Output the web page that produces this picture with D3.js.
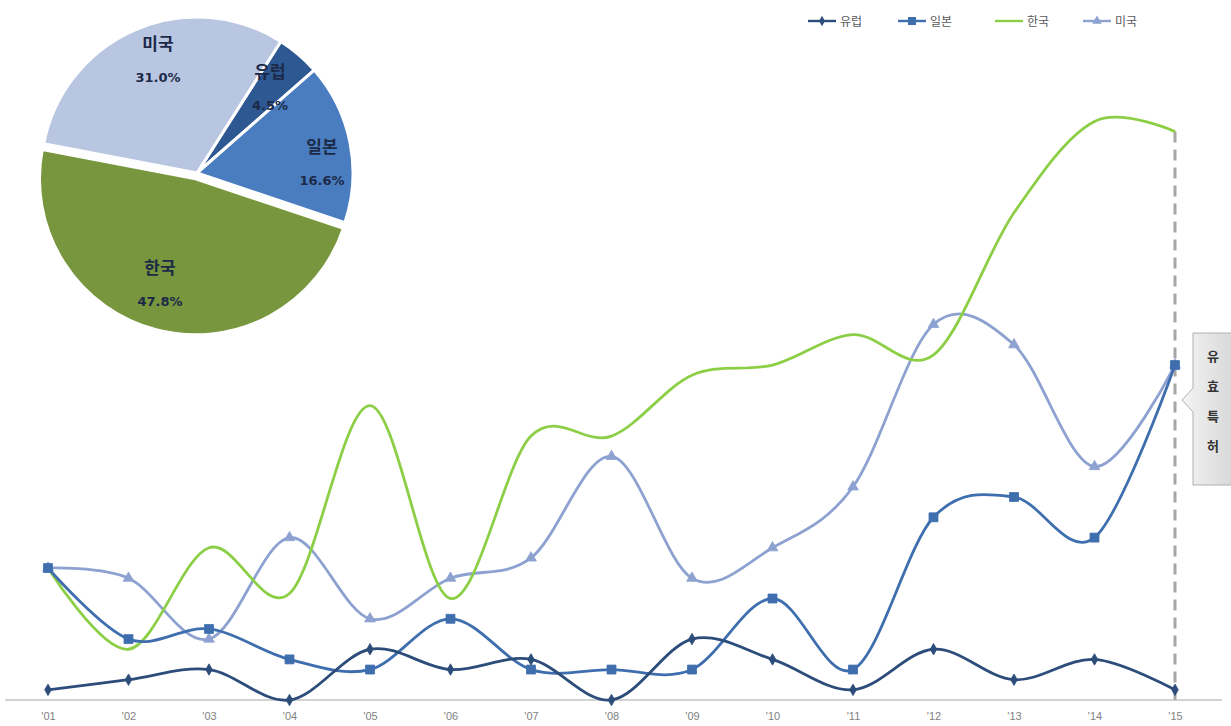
<!DOCTYPE html>
<html>
<head>
<meta charset="utf-8">
<script src="https://cdn.jsdelivr.net/npm/d3@7"></script>
<style>
  html, body { margin: 0; padding: 0; background: #ffffff; }
  svg { display: block; font-family: "Noto Sans CJK KR", "Noto Sans", sans-serif; }
</style>
</head>
<body>
<svg id="chart" width="1231" height="726"></svg>
<script>
// Yearly valid patent counts by country, 2001–2015
const years = ["'01","'02","'03","'04","'05","'06","'07","'08","'09","'10","'11","'12","'13","'14","'15"];
const europe = [1, 2, 3, 0, 5, 3, 4, 0, 6, 4, 1, 5, 2, 4, 1];
const japan  = [13, 6, 7, 4, 3, 8, 3, 3, 3, 10, 3, 18, 20, 16, 33];
const korea  = [13, 5, 15, 10.5, 29, 10, 26, 26, 32, 33, 36, 34, 48, 57, 56];
const usa    = [13, 12, 6, 16, 8, 12, 14, 24, 12, 15, 21, 37, 35, 23, 33];

// Share of total by country (pie)
const shareNames  = ["유럽", "일본", "한국", "미국"];
const shareValues = [4.5, 16.6, 47.8, 31.0];

const calloutText = ["유", "효", "특", "허"];

const svg = d3.select("#chart");

// ---------- line chart ----------
const x = d3.scalePoint().domain(years).range([48, 1175]);
const y = d3.scaleLinear().domain([0, 60]).range([700, 91]);

// baseline axis
svg.append("line")
  .attr("x1", 5).attr("x2", 1222)
  .attr("y1", y(0)).attr("y2", y(0))
  .attr("stroke", "#a6a6a6").attr("stroke-width", 1.2);

const xAxis = d3.axisBottom(x).tickSize(0).tickPadding(12);
const gx = svg.append("g").attr("transform", `translate(0,${y(0)})`).call(xAxis);
gx.select(".domain").remove();
gx.selectAll("text")
  .attr("fill", "#7f7f7f")
  .style("font-family", "'Liberation Sans', 'DejaVu Sans', sans-serif")
  .style("font-size", "11px");

// dashed marker line at the last year
svg.append("line")
  .attr("x1", x("'15")).attr("x2", x("'15"))
  .attr("y1", y(korea[korea.length - 1])).attr("y2", y(0))
  .attr("stroke", "#a6a6a6").attr("stroke-width", 3)
  .attr("stroke-dasharray", "11,7");

const line = d3.line()
  .x((d, i) => x(years[i]))
  .y(d => y(d))
  .curve(d3.curveCardinal.tension(0));

const series = [
  { name: "유럽", values: europe, color: "#2c4c7a", marker: "diamond" },
  { name: "일본", values: japan,  color: "#3f6eae", marker: "square" },
  { name: "한국", values: korea,  color: "#8ccf46", marker: "none" },
  { name: "미국", values: usa,    color: "#8da2d0", marker: "triangle" }
];

// draw order: light blue behind, then Korea, Japan, Europe on top
const drawOrder = [3, 2, 1, 0];

function markerPath(type, size) {
  if (type === "diamond") return d3.symbol(d3.symbolDiamond, size)();
  if (type === "square") return d3.symbol(d3.symbolSquare, size)();
  if (type === "triangle") return d3.symbol(d3.symbolTriangle, size)();
  return null;
}
const markerSize = { diamond: 38, square: 80, triangle: 50 };

drawOrder.forEach(k => {
  const s = series[k];
  svg.append("path")
    .datum(s.values)
    .attr("d", line)
    .attr("fill", "none")
    .attr("stroke", s.color)
    .attr("stroke-width", 2.8)
    .attr("stroke-linejoin", "round");
  if (s.marker !== "none") {
    svg.append("g").selectAll("path")
      .data(s.values)
      .join("path")
      .attr("d", markerPath(s.marker, markerSize[s.marker]))
      .attr("transform", (d, i) => `translate(${x(years[i])},${y(d)})`)
      .attr("fill", s.color)
      .attr("stroke", s.color)
      .attr("stroke-width", 0.8);
  }
});

// ---------- legend ----------
const legendX = [808, 898, 995, 1083];
const legend = svg.append("g").attr("transform", "translate(0,21)");
series.forEach((s, i) => {
  const g = legend.append("g").attr("transform", `translate(${legendX[i]},0)`);
  g.append("line").attr("x1", 0).attr("x2", 28).attr("y1", 0).attr("y2", 0)
    .attr("stroke", s.color).attr("stroke-width", 2.4);
  if (s.marker !== "none") {
    g.append("path").attr("d", markerPath(s.marker, markerSize[s.marker] * 0.8))
      .attr("transform", "translate(14,0)").attr("fill", s.color);
  }
  g.append("text").attr("x", 32).attr("y", 4.5)
    .attr("fill", "#595959").style("font-size", "12px")
    .text(s.name);
});

// ---------- callout ----------
const cx0 = 1193, cy0 = 333, cw = 44, ch = 152, tipX = 1182, tipY = 400;
const defs = svg.append("defs");
const grad = defs.append("linearGradient").attr("id", "calloutFill")
  .attr("x1", 0).attr("x2", 1).attr("y1", 0).attr("y2", 0);
grad.append("stop").attr("offset", "0%").attr("stop-color", "#f4f4f4");
grad.append("stop").attr("offset", "100%").attr("stop-color", "#d6d6d6");

svg.append("path")
  .attr("d", `M${cx0},${cy0} L${cx0 + cw},${cy0} L${cx0 + cw},${cy0 + ch} L${cx0},${cy0 + ch}
              L${cx0},${tipY + 12} L${tipX},${tipY} L${cx0},${tipY - 12} Z`)
  .attr("fill", "url(#calloutFill)")
  .attr("stroke", "#b0b0b0").attr("stroke-width", 1);

calloutText.forEach((t, i) => {
  svg.append("text")
    .attr("x", 1213).attr("y", 361 + i * 30)
    .attr("text-anchor", "middle")
    .attr("fill", "#333333")
    .style("font-size", "13px").style("font-weight", "bold")
    .text(t);
});

// ---------- pie ----------
const pieCenter = [197, 173];
const radius = 156;
const pieColors = ["#2d5892", "#4a7dc0", "#77963d", "#b8c6e2"];
const startDeg = 32.5;

const pie = d3.pie().sort(null).value(d => d)
  .startAngle(startDeg * Math.PI / 180)
  .endAngle((startDeg + 360) * Math.PI / 180);
const arcs = pie(shareValues);
const arc = d3.arc().innerRadius(0).outerRadius(radius);

const pieG = svg.append("g").attr("transform", `translate(${pieCenter[0]},${pieCenter[1]})`);
const explode = [0, 0, 6, 0];
arcs.forEach((a, i) => {
  const mid = (a.startAngle + a.endAngle) / 2;
  const dx = Math.sin(mid) * explode[i], dy = -Math.cos(mid) * explode[i];
  pieG.append("path")
    .attr("d", arc(a))
    .attr("transform", `translate(${dx},${dy})`)
    .attr("fill", pieColors[i])
    .attr("stroke", "#ffffff").attr("stroke-width", 3);
});

// pie labels
const labelPos = [[270, 78], [322, 153], [160, 274], [158, 50]];
arcs.forEach((a, i) => {
  const [lx, ly] = labelPos[i];
  svg.append("text")
    .attr("x", lx).attr("y", ly)
    .attr("text-anchor", "middle")
    .attr("fill", "#1c2a48")
    .style("font-size", "17px").style("font-weight", "bold")
    .text(shareNames[i]);
  svg.append("text")
    .attr("x", lx).attr("y", ly + 32)
    .attr("text-anchor", "middle")
    .attr("fill", "#1c2a48")
    .style("font-size", "13px").style("font-weight", "bold")
    .style("font-family", "'DejaVu Sans', sans-serif")
    .text(shareValues[i].toFixed(1) + "%");
});
</script>
</body>
</html>
